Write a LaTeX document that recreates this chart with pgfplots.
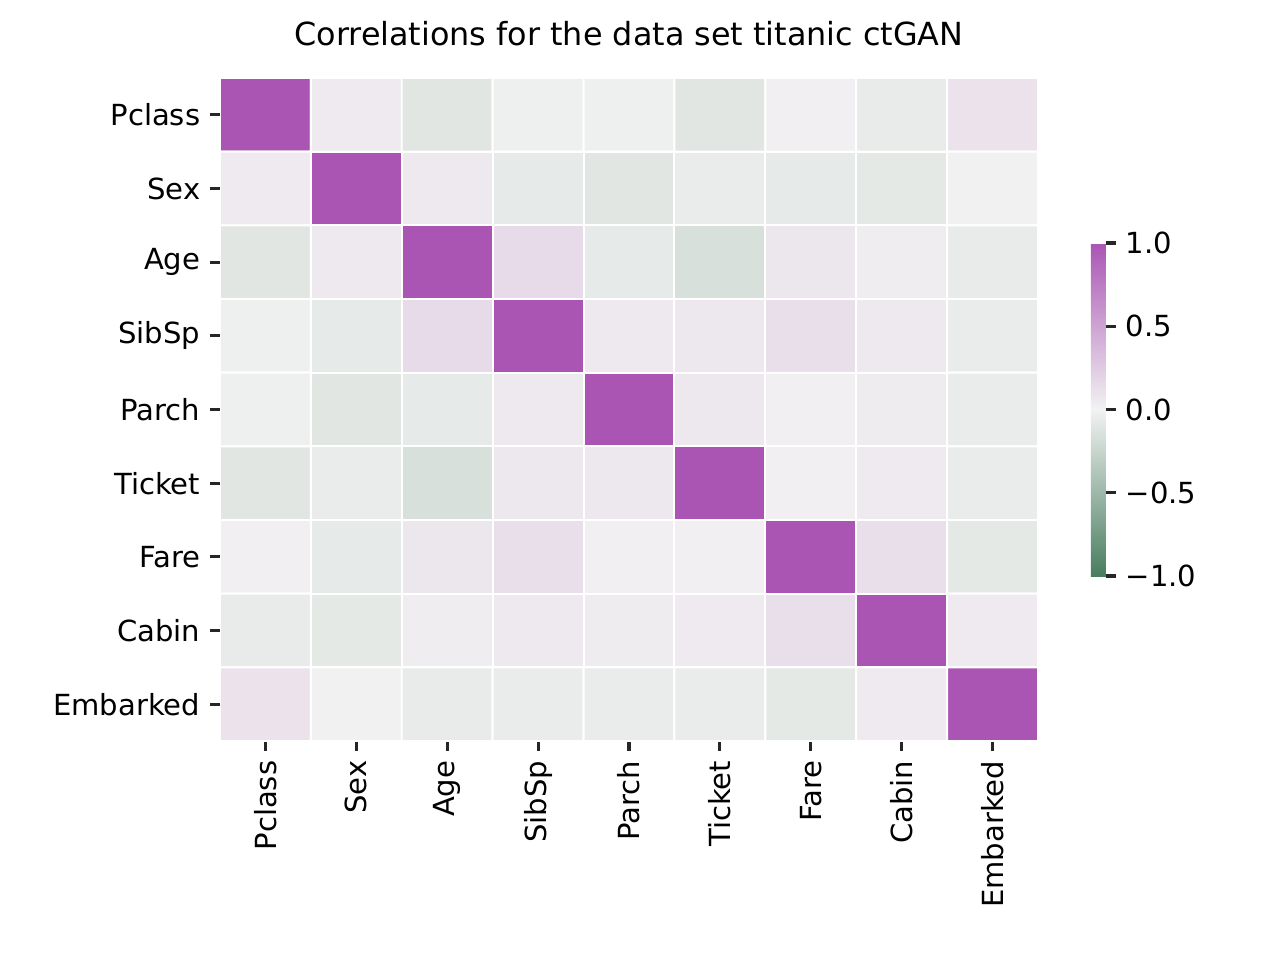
\documentclass[border=0pt]{standalone}
\usepackage{pgfplots}
\pgfplotsset{compat=1.18}
\usepackage{fontspec}
\setmainfont{DejaVu Sans}
\begin{document}
\begin{tikzpicture}
\useasboundingbox (-1.1in,-1.095in) rectangle (5.3in,3.705in);
\begin{axis}[
  at={(0,0)}, anchor=south west,
  scale only axis, width=4.09in, height=3.315in,
  font=\fontsize{10.5}{12}\selectfont,
  title={Correlations for the data set titanic ctGAN},
  title style={font=\fontsize{11.5}{13}\selectfont, yshift=2pt},
  xmin=-0.5, xmax=8.5, ymin=-0.5, ymax=8.5, y dir=reverse,
  xtick={0,...,8}, ytick={0,...,8},
  xticklabels={Pclass,Sex,Age,SibSp,Parch,Ticket,Fare,Cabin,Embarked},
  yticklabels={Pclass,Sex,Age,SibSp,Parch,Ticket,Fare,Cabin,Embarked},
  x tick label style={rotate=90, anchor=east},
  axis line style={draw=none},
  tick align=outside, major tick length=0.05in,
  tick style={color=black!85, line width=1.1pt},
  xtick pos=bottom, ytick pos=left,
  colormap={div}{rgb255(0)=(72,125,95); rgb255(1)=(242,242,242); rgb255(2)=(170,85,180)},
  point meta min=-1, point meta max=1,
  colorbar right,
  colorbar style={at={(1.0648,0.5)}, anchor=west, width=0.075in, height=1.665in,
    axis line style={draw=none}, ytick={-1,-0.5,0,0.5,1},
    yticklabels={−1.0,−0.5,0.0,0.5,1.0},
    yticklabel style={font=\fontsize{10.5}{12}\selectfont},
    tick align=outside, major tick length=0.05in,
    tick style={color=black!85, line width=1.1pt}, ytick pos=right},
]
\addplot[matrix plot*, mesh/cols=9, point meta=explicit, draw=white, line width=0.7pt]
table[meta=c] {
x y c
0 0 1
1 0 0.05
2 0 -0.1
3 0 -0.02
4 0 -0.02
5 0 -0.1
6 0 0.02
7 0 -0.06
8 0 0.1
0 1 0.05
1 1 1
2 1 0.06
3 1 -0.07
4 1 -0.1
5 1 -0.05
6 1 -0.07
7 1 -0.08
8 1 -0.01
0 2 -0.1
1 2 0.06
2 2 1
3 2 0.15
4 2 -0.07
5 2 -0.15
6 2 0.08
7 2 0.03
8 2 -0.06
0 3 -0.02
1 3 -0.07
2 3 0.15
3 3 1
4 3 0.06
5 3 0.07
6 3 0.12
7 3 0.06
8 3 -0.05
0 4 -0.02
1 4 -0.1
2 4 -0.07
3 4 0.06
4 4 1
5 4 0.07
6 4 0.02
7 4 0.04
8 4 -0.05
0 5 -0.1
1 5 -0.05
2 5 -0.15
3 5 0.07
4 5 0.07
5 5 1
6 5 0.02
7 5 0.05
8 5 -0.05
0 6 0.02
1 6 -0.07
2 6 0.08
3 6 0.12
4 6 0.02
5 6 0.02
6 6 1
7 6 0.12
8 6 -0.08
0 7 -0.06
1 7 -0.08
2 7 0.03
3 7 0.06
4 7 0.04
5 7 0.05
6 7 0.12
7 7 1
8 7 0.05
0 8 0.1
1 8 -0.01
2 8 -0.06
3 8 -0.05
4 8 -0.05
5 8 -0.05
6 8 -0.08
7 8 0.05
8 8 1
};
\end{axis}
\end{tikzpicture}
\end{document}
